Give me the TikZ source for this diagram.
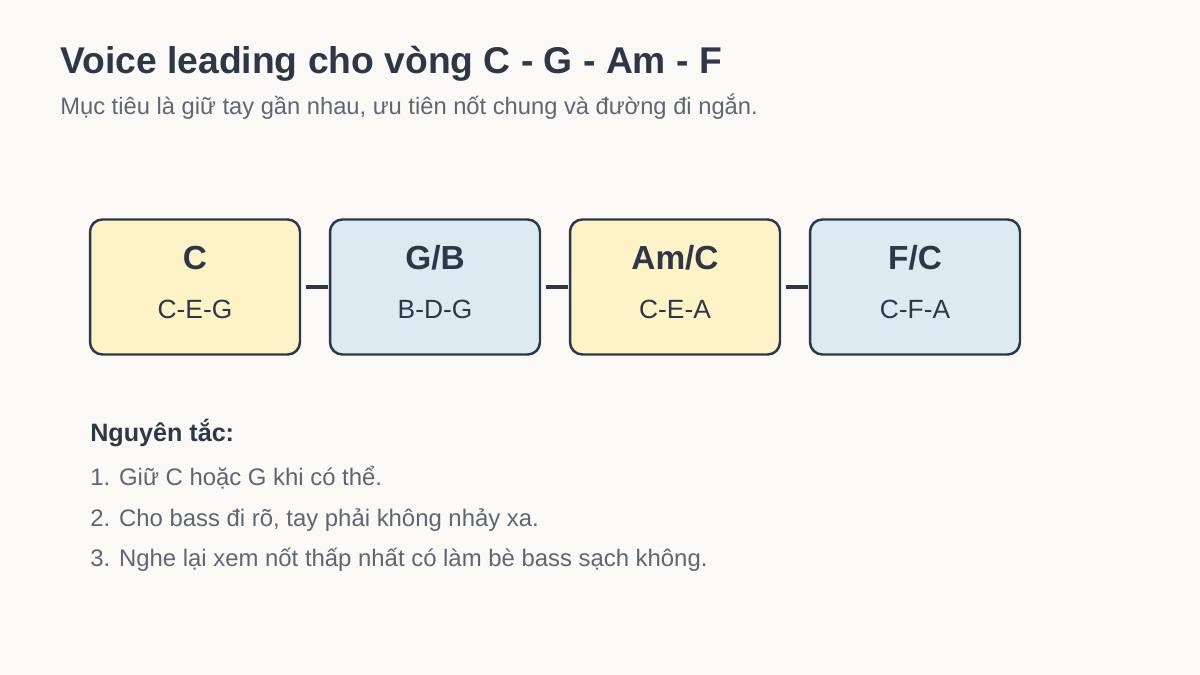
\documentclass[tikz,border=0pt]{standalone}
\usepackage{fontspec}
\setmainfont{Liberation Sans}
\usetikzlibrary{positioning}
\definecolor{ink}{HTML}{2D3748}
\definecolor{gray}{HTML}{5F6673}
\definecolor{bg}{HTML}{FAF9F6}
\definecolor{warm}{HTML}{FEF3C7}
\definecolor{cool}{HTML}{DCEBF1}
\tikzset{
  chord/.style={draw=ink, line width=1.4pt, rounded corners=7pt, minimum width=4.2cm, minimum height=2.7cm, inner sep=0pt},
  link/.style={draw=ink, line width=2.2pt},
  txt/.style={anchor=base west, inner sep=0pt},
}
\begin{document}
\begin{tikzpicture}[x=0.02cm, y=-0.02cm]
  \fill[bg] (0,0) rectangle (1200,675);
  \useasboundingbox (0,0) rectangle (1200,675);
  \node[txt, text=ink, font=\fontsize{21.2}{25}\selectfont\bfseries] (title) at (60,74) {Voice leading cho vòng C - G - Am - F};
  \node[txt, text=gray, font=\fontsize{13.5}{16}\selectfont] (sub) at (60,115) {Mục tiêu là giữ tay gần nhau, ưu tiên nốt chung và đường đi ngắn.};
  % chords
  \foreach \i/\name/\notes/\col in {0/{C}/C-E-G/warm, 1/{G/B}/B-D-G/cool, 2/{Am/C}/C-E-A/warm, 3/{F/C}/C-F-A/cool}{
    \node[chord, fill=\col] (K\i) at (195+240*\i,287) {};
    \node[text=ink, font=\fontsize{19}{22}\selectfont\bfseries] (N\i) at (195+240*\i,258) {\name};
    \node[text=ink, font=\fontsize{15}{18}\selectfont] (M\i) at (195+240*\i,309) {\notes};
  }
  \foreach \i/\j in {0/1,1/2,2/3}{
    \path (K\i.east) ++(5,0) coordinate (a\i) (K\j.west) ++(-1,0) coordinate (b\i);
    \draw[link] (a\i) -- (b\i);
  }
  \node[txt, text=ink, font=\fontsize{14.3}{17}\selectfont\bfseries] (rules) at (90,441) {Nguyên tắc:};
  \node[txt, text=gray, font=\fontsize{13.6}{16}\selectfont] (r1) at (90,485) {1. Giữ C hoặc G khi có thể.};
  \node[txt, text=gray, font=\fontsize{13.6}{16}\selectfont] (r2) at (90,526) {2. Cho bass đi rõ, tay phải không nhảy xa.};
  \node[txt, text=gray, font=\fontsize{13.6}{16}\selectfont] (r3) at (90,566) {3. Nghe lại xem nốt thấp nhất có làm bè bass sạch không.};
\end{tikzpicture}
\end{document}
